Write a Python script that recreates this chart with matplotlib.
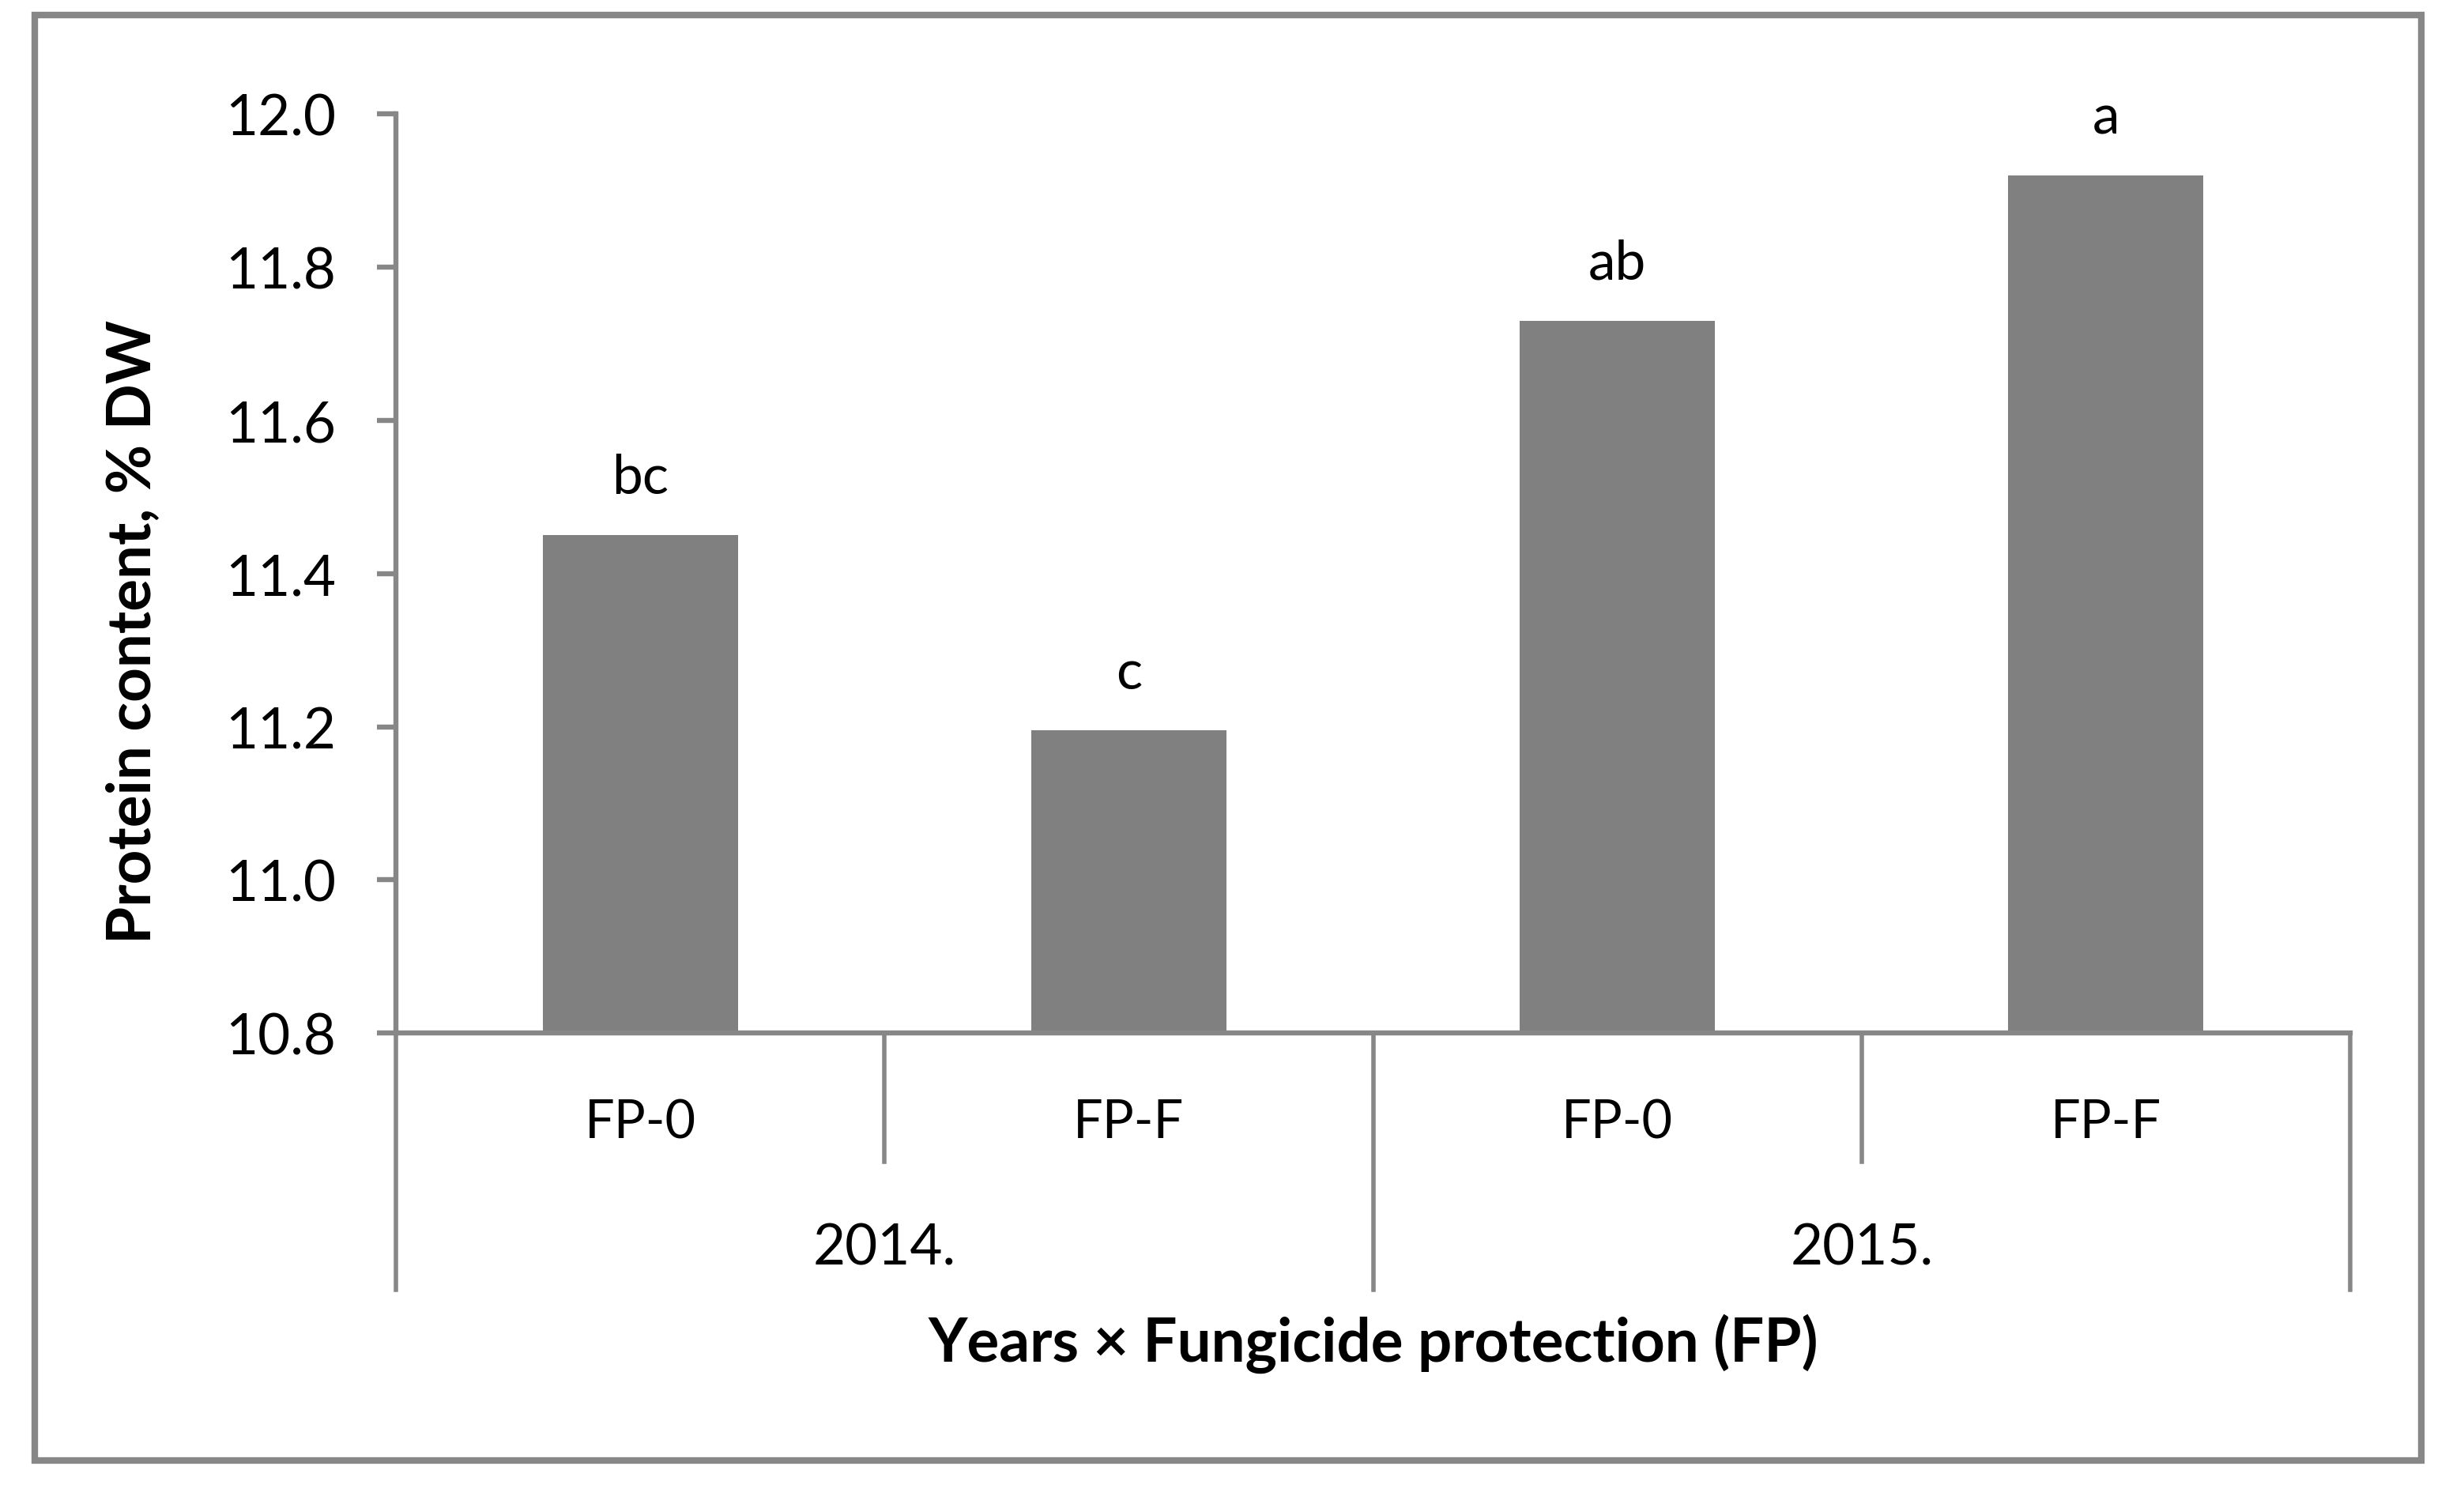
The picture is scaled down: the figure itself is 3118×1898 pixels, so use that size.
import matplotlib.pyplot as plt
from matplotlib.patches import Rectangle

# values
treatments = ["FP-0", "FP-F", "FP-0", "FP-F"]
years = ["2014.", "2015."]
protein = [11.45, 11.195, 11.73, 11.92]
letters = ["bc", "c", "ab", "a"]
y_ticks = [10.8, 11.0, 11.2, 11.4, 11.6, 11.8, 12.0]

plt.rcParams['font.family'] = ['Lato', 'DejaVu Sans']
axis_grey = "#878787"
bar_grey = "#808080"

fig = plt.figure(figsize=(15.59, 9.495), dpi=200)
ax = fig.add_axes([0.1607, 0.3111, 0.7931, 0.6125])

x = list(range(len(protein)))
ax.bar(x, [v - 10.8 for v in protein], bottom=10.8, width=0.40, color=bar_grey, zorder=2)

for xi, v, lab in zip(x, protein, letters):
    ax.text(xi, v + 0.055, lab, ha="center", va="baseline", fontsize=25)

ax.set_xlim(-0.5, 3.5)
ax.set_ylim(10.8, 12.0)
ax.set_yticks(y_ticks)
ax.set_yticklabels([f"{t:.1f}" for t in y_ticks])
ax.set_xticks([])
ax.tick_params(axis="y", direction="out", length=8.5, width=2.3, color=axis_grey,
               labelsize=25.5, pad=19)

for side in ["top", "right"]:
    ax.spines[side].set_visible(False)
for side in ["left", "bottom"]:
    ax.spines[side].set_color(axis_grey)
    ax.spines[side].set_linewidth(2.3)

# two-level category axis
trans = ax.get_xaxis_transform()
for sx in [0.5, 2.5]:
    ax.plot([sx, sx], [0, -0.140], transform=trans, color=axis_grey, lw=2.0, clip_on=False)
for sx in [-0.5, 1.5, 3.5]:
    ax.plot([sx, sx], [0, -0.279], transform=trans, color=axis_grey, lw=2.0, clip_on=False)

for xi, t in zip(x, treatments):
    ax.text(xi, -0.097, t, transform=trans, ha="center", va="center", fontsize=24)
for i, yr in enumerate(years):
    ax.text(2 * i + 0.5, -0.234, yr, transform=trans, ha="center", va="center", fontsize=25.5)

ax.text(1.5, -0.337, "Years \u00d7 Fungicide protection (FP)", transform=trans,
        ha="center", va="center", fontsize=27.5, fontweight="bold")
fig.text(0.0542, 0.579, "Protein content, % DW", rotation=90, ha="center", va="center",
         fontsize=27.5, fontweight="bold")

# outer chart border
fig.patches.append(Rectangle((0.014, 0.0263), 0.9687, 0.9632, transform=fig.transFigure,
                             fill=False, edgecolor=axis_grey, lw=3.0))

fig.savefig("out.png", dpi=200)
